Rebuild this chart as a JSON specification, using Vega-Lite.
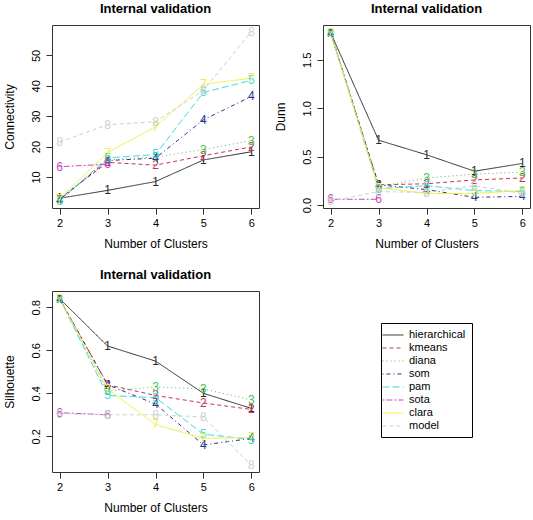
{
  "$schema": "https://vega.github.io/schema/vega-lite/v6.json",
  "background": "white",
  "padding": {"left": 2, "top": 2, "right": 0, "bottom": 0},
  "autosize": {"type": "pad"},
  "bounds": "flush",
  "columns": 2,
  "spacing": {"row": 83, "column": 64},
  "datasets": {
    "v": [
      {"m": "conn", "method": "hierarchical", "n": "1", "k": 2, "v": 3.0},
      {"m": "conn", "method": "hierarchical", "n": "1", "k": 3, "v": 5.6},
      {"m": "conn", "method": "hierarchical", "n": "1", "k": 4, "v": 8.5},
      {"m": "conn", "method": "hierarchical", "n": "1", "k": 5, "v": 15.6},
      {"m": "conn", "method": "hierarchical", "n": "1", "k": 6, "v": 18.3},
      {"m": "conn", "method": "kmeans", "n": "2", "k": 2, "v": 2.9},
      {"m": "conn", "method": "kmeans", "n": "2", "k": 3, "v": 14.8},
      {"m": "conn", "method": "kmeans", "n": "2", "k": 4, "v": 13.9},
      {"m": "conn", "method": "kmeans", "n": "2", "k": 5, "v": 17.0},
      {"m": "conn", "method": "kmeans", "n": "2", "k": 6, "v": 19.9},
      {"m": "conn", "method": "diana", "n": "3", "k": 2, "v": 2.9},
      {"m": "conn", "method": "diana", "n": "3", "k": 3, "v": 15.6},
      {"m": "conn", "method": "diana", "n": "3", "k": 4, "v": 16.6},
      {"m": "conn", "method": "diana", "n": "3", "k": 5, "v": 19.0},
      {"m": "conn", "method": "diana", "n": "3", "k": 6, "v": 22.0},
      {"m": "conn", "method": "som", "n": "4", "k": 2, "v": 2.5},
      {"m": "conn", "method": "som", "n": "4", "k": 3, "v": 15.4},
      {"m": "conn", "method": "som", "n": "4", "k": 4, "v": 16.2},
      {"m": "conn", "method": "som", "n": "4", "k": 5, "v": 28.8},
      {"m": "conn", "method": "som", "n": "4", "k": 6, "v": 36.5},
      {"m": "conn", "method": "pam", "n": "5", "k": 2, "v": 2.0},
      {"m": "conn", "method": "pam", "n": "5", "k": 3, "v": 16.3},
      {"m": "conn", "method": "pam", "n": "5", "k": 4, "v": 17.4},
      {"m": "conn", "method": "pam", "n": "5", "k": 5, "v": 37.8},
      {"m": "conn", "method": "pam", "n": "5", "k": 6, "v": 41.8},
      {"m": "conn", "method": "sota", "n": "6", "k": 2, "v": 13.4},
      {"m": "conn", "method": "sota", "n": "6", "k": 3, "v": 14.2},
      {"m": "conn", "method": "clara", "n": "7", "k": 2, "v": 2.9},
      {"m": "conn", "method": "clara", "n": "7", "k": 3, "v": 18.0},
      {"m": "conn", "method": "clara", "n": "7", "k": 4, "v": 26.5},
      {"m": "conn", "method": "clara", "n": "7", "k": 5, "v": 40.5},
      {"m": "conn", "method": "clara", "n": "7", "k": 6, "v": 42.5},
      {"m": "conn", "method": "model", "n": "8", "k": 2, "v": 21.5},
      {"m": "conn", "method": "model", "n": "8", "k": 3, "v": 27.2},
      {"m": "conn", "method": "model", "n": "8", "k": 4, "v": 28.2},
      {"m": "conn", "method": "model", "n": "8", "k": 5, "v": 38.5},
      {"m": "conn", "method": "model", "n": "8", "k": 6, "v": 57.8},

      {"m": "dunn", "method": "hierarchical", "n": "1", "k": 2, "v": 1.78},
      {"m": "dunn", "method": "hierarchical", "n": "1", "k": 3, "v": 0.67},
      {"m": "dunn", "method": "hierarchical", "n": "1", "k": 4, "v": 0.52},
      {"m": "dunn", "method": "hierarchical", "n": "1", "k": 5, "v": 0.35},
      {"m": "dunn", "method": "hierarchical", "n": "1", "k": 6, "v": 0.43},
      {"m": "dunn", "method": "kmeans", "n": "2", "k": 2, "v": 1.78},
      {"m": "dunn", "method": "kmeans", "n": "2", "k": 3, "v": 0.21},
      {"m": "dunn", "method": "kmeans", "n": "2", "k": 4, "v": 0.22},
      {"m": "dunn", "method": "kmeans", "n": "2", "k": 5, "v": 0.26},
      {"m": "dunn", "method": "kmeans", "n": "2", "k": 6, "v": 0.28},
      {"m": "dunn", "method": "diana", "n": "3", "k": 2, "v": 1.78},
      {"m": "dunn", "method": "diana", "n": "3", "k": 3, "v": 0.19},
      {"m": "dunn", "method": "diana", "n": "3", "k": 4, "v": 0.28},
      {"m": "dunn", "method": "diana", "n": "3", "k": 5, "v": 0.32},
      {"m": "dunn", "method": "diana", "n": "3", "k": 6, "v": 0.34},
      {"m": "dunn", "method": "som", "n": "4", "k": 2, "v": 1.78},
      {"m": "dunn", "method": "som", "n": "4", "k": 3, "v": 0.21},
      {"m": "dunn", "method": "som", "n": "4", "k": 4, "v": 0.16},
      {"m": "dunn", "method": "som", "n": "4", "k": 5, "v": 0.08},
      {"m": "dunn", "method": "som", "n": "4", "k": 6, "v": 0.09},
      {"m": "dunn", "method": "pam", "n": "5", "k": 2, "v": 1.78},
      {"m": "dunn", "method": "pam", "n": "5", "k": 3, "v": 0.17},
      {"m": "dunn", "method": "pam", "n": "5", "k": 4, "v": 0.2},
      {"m": "dunn", "method": "pam", "n": "5", "k": 5, "v": 0.15},
      {"m": "dunn", "method": "pam", "n": "5", "k": 6, "v": 0.14},
      {"m": "dunn", "method": "sota", "n": "6", "k": 2, "v": 0.06},
      {"m": "dunn", "method": "sota", "n": "6", "k": 3, "v": 0.06},
      {"m": "dunn", "method": "clara", "n": "7", "k": 2, "v": 1.78},
      {"m": "dunn", "method": "clara", "n": "7", "k": 3, "v": 0.18},
      {"m": "dunn", "method": "clara", "n": "7", "k": 4, "v": 0.12},
      {"m": "dunn", "method": "clara", "n": "7", "k": 5, "v": 0.12},
      {"m": "dunn", "method": "clara", "n": "7", "k": 6, "v": 0.15},
      {"m": "dunn", "method": "model", "n": "8", "k": 2, "v": 0.04},
      {"m": "dunn", "method": "model", "n": "8", "k": 3, "v": 0.14},
      {"m": "dunn", "method": "model", "n": "8", "k": 4, "v": 0.13},
      {"m": "dunn", "method": "model", "n": "8", "k": 5, "v": 0.2},
      {"m": "dunn", "method": "model", "n": "8", "k": 6, "v": 0.12},

      {"m": "sil", "method": "hierarchical", "n": "1", "k": 2, "v": 0.84},
      {"m": "sil", "method": "hierarchical", "n": "1", "k": 3, "v": 0.62},
      {"m": "sil", "method": "hierarchical", "n": "1", "k": 4, "v": 0.55},
      {"m": "sil", "method": "hierarchical", "n": "1", "k": 5, "v": 0.40},
      {"m": "sil", "method": "hierarchical", "n": "1", "k": 6, "v": 0.33},
      {"m": "sil", "method": "kmeans", "n": "2", "k": 2, "v": 0.84},
      {"m": "sil", "method": "kmeans", "n": "2", "k": 3, "v": 0.44},
      {"m": "sil", "method": "kmeans", "n": "2", "k": 4, "v": 0.39},
      {"m": "sil", "method": "kmeans", "n": "2", "k": 5, "v": 0.355},
      {"m": "sil", "method": "kmeans", "n": "2", "k": 6, "v": 0.325},
      {"m": "sil", "method": "diana", "n": "3", "k": 2, "v": 0.84},
      {"m": "sil", "method": "diana", "n": "3", "k": 3, "v": 0.41},
      {"m": "sil", "method": "diana", "n": "3", "k": 4, "v": 0.43},
      {"m": "sil", "method": "diana", "n": "3", "k": 5, "v": 0.42},
      {"m": "sil", "method": "diana", "n": "3", "k": 6, "v": 0.37},
      {"m": "sil", "method": "som", "n": "4", "k": 2, "v": 0.84},
      {"m": "sil", "method": "som", "n": "4", "k": 3, "v": 0.44},
      {"m": "sil", "method": "som", "n": "4", "k": 4, "v": 0.35},
      {"m": "sil", "method": "som", "n": "4", "k": 5, "v": 0.16},
      {"m": "sil", "method": "som", "n": "4", "k": 6, "v": 0.19},
      {"m": "sil", "method": "pam", "n": "5", "k": 2, "v": 0.84},
      {"m": "sil", "method": "pam", "n": "5", "k": 3, "v": 0.39},
      {"m": "sil", "method": "pam", "n": "5", "k": 4, "v": 0.38},
      {"m": "sil", "method": "pam", "n": "5", "k": 5, "v": 0.21},
      {"m": "sil", "method": "pam", "n": "5", "k": 6, "v": 0.185},
      {"m": "sil", "method": "sota", "n": "6", "k": 2, "v": 0.31},
      {"m": "sil", "method": "sota", "n": "6", "k": 3, "v": 0.30},
      {"m": "sil", "method": "clara", "n": "7", "k": 2, "v": 0.84},
      {"m": "sil", "method": "clara", "n": "7", "k": 3, "v": 0.42},
      {"m": "sil", "method": "clara", "n": "7", "k": 4, "v": 0.255},
      {"m": "sil", "method": "clara", "n": "7", "k": 5, "v": 0.19},
      {"m": "sil", "method": "clara", "n": "7", "k": 6, "v": 0.195},
      {"m": "sil", "method": "model", "n": "8", "k": 2, "v": 0.305},
      {"m": "sil", "method": "model", "n": "8", "k": 3, "v": 0.30},
      {"m": "sil", "method": "model", "n": "8", "k": 4, "v": 0.30},
      {"m": "sil", "method": "model", "n": "8", "k": 5, "v": 0.29},
      {"m": "sil", "method": "model", "n": "8", "k": 6, "v": 0.065}
    ]
  },
  "concat": [
    {
      "width": 207, "height": 183,
      "title": "Internal validation",
      "data": {"name": "v"},
      "transform": [{"filter": "datum.m === 'conn'"}],
      "encoding": {
        "x": {"field": "k", "type": "quantitative", "scale": {"domain": [1.84, 6.16], "nice": false, "zero": false}, "axis": {"values": [2, 3, 4, 5, 6], "title": "Number of Clusters"}},
        "y": {"field": "v", "type": "quantitative", "scale": {"domain": [-0.2, 60.0], "nice": false, "zero": false}, "axis": {"values": [10, 20, 30, 40, 50], "title": "Connectivity"}},
        "color": {"field": "method", "type": "nominal", "scale": {"domain": ["hierarchical", "kmeans", "diana", "som", "pam", "sota", "clara", "model"], "range": ["#2b2b2b", "#c8325a", "#4cbf4c", "#2e2e8c", "#3fdcdc", "#cc44bb", "#f0f03a", "#cfcfcf"]}, "legend": null}
      },
      "layer": [
        {"mark": {"type": "line", "strokeWidth": 1}, "encoding": {"strokeDash": {"field": "method", "type": "nominal", "scale": {"domain": ["hierarchical", "kmeans", "diana", "som", "pam", "sota", "clara", "model"], "range": [[1, 0], [4, 3], [1, 3], [1, 3, 4, 3], [7, 3], [2, 2, 6, 2], [1, 0], [4, 3]]}, "legend": null}}},
        {"mark": {"type": "text", "fontSize": 12, "baseline": "middle", "align": "center"}, "encoding": {"text": {"field": "n"}}}
      ]
    },
    {
      "width": 207, "height": 183,
      "title": "Internal validation",
      "data": {"name": "v"},
      "transform": [{"filter": "datum.m === 'dunn'"}],
      "encoding": {
        "x": {"field": "k", "type": "quantitative", "scale": {"domain": [1.84, 6.16], "nice": false, "zero": false}, "axis": {"values": [2, 3, 4, 5, 6], "title": "Number of Clusters"}},
        "y": {"field": "v", "type": "quantitative", "scale": {"domain": [-0.03, 1.86], "nice": false, "zero": false}, "axis": {"values": [0, 0.5, 1.0, 1.5], "format": ".1f", "title": "Dunn"}},
        "color": {"field": "method", "type": "nominal", "scale": {"domain": ["hierarchical", "kmeans", "diana", "som", "pam", "sota", "clara", "model"], "range": ["#2b2b2b", "#c8325a", "#4cbf4c", "#2e2e8c", "#3fdcdc", "#cc44bb", "#f0f03a", "#cfcfcf"]}, "legend": null}
      },
      "layer": [
        {"mark": {"type": "line", "strokeWidth": 1}, "encoding": {"strokeDash": {"field": "method", "type": "nominal", "scale": {"domain": ["hierarchical", "kmeans", "diana", "som", "pam", "sota", "clara", "model"], "range": [[1, 0], [4, 3], [1, 3], [1, 3, 4, 3], [7, 3], [2, 2, 6, 2], [1, 0], [4, 3]]}, "legend": null}}},
        {"mark": {"type": "text", "fontSize": 12, "baseline": "middle", "align": "center"}, "encoding": {"text": {"field": "n"}}}
      ]
    },
    {
      "width": 207, "height": 181,
      "title": "Internal validation",
      "data": {"name": "v"},
      "transform": [{"filter": "datum.m === 'sil'"}],
      "encoding": {
        "x": {"field": "k", "type": "quantitative", "scale": {"domain": [1.84, 6.16], "nice": false, "zero": false}, "axis": {"values": [2, 3, 4, 5, 6], "title": "Number of Clusters"}},
        "y": {"field": "v", "type": "quantitative", "scale": {"domain": [0.034, 0.876], "nice": false, "zero": false}, "axis": {"values": [0.2, 0.4, 0.6, 0.8], "format": ".1f", "title": "Silhouette"}},
        "color": {"field": "method", "type": "nominal", "scale": {"domain": ["hierarchical", "kmeans", "diana", "som", "pam", "sota", "clara", "model"], "range": ["#2b2b2b", "#c8325a", "#4cbf4c", "#2e2e8c", "#3fdcdc", "#cc44bb", "#f0f03a", "#cfcfcf"]}, "legend": {"title": null, "orient": "none", "legendX": 329, "legendY": 32}}
      },
      "layer": [
        {"mark": {"type": "line", "strokeWidth": 1}, "encoding": {"strokeDash": {"field": "method", "type": "nominal", "scale": {"domain": ["hierarchical", "kmeans", "diana", "som", "pam", "sota", "clara", "model"], "range": [[1, 0], [4, 3], [1, 3], [1, 3, 4, 3], [7, 3], [2, 2, 6, 2], [1, 0], [4, 3]]}, "legend": {"title": null, "orient": "none", "legendX": 329, "legendY": 32}}}},
        {"mark": {"type": "text", "fontSize": 12, "baseline": "middle", "align": "center"}, "encoding": {"text": {"field": "n"}}}
      ]
    }
  ],
  "resolve": {"scale": {"y": "independent", "color": "independent", "strokeDash": "independent"}, "legend": {"color": "independent", "strokeDash": "independent"}},
  "config": {
    "font": "Liberation Sans",
    "view": {"stroke": "#333333", "strokeWidth": 1},
    "title": {"fontSize": 13, "fontWeight": "bold", "color": "#000", "anchor": "middle", "offset": 9, "font": "Liberation Sans"},
    "axis": {"domain": false, "grid": false, "tickColor": "#333", "tickSize": 6, "labelColor": "#000", "labelFontSize": 11, "titleFontSize": 12, "titleFontWeight": "normal", "titleColor": "#000", "labelFont": "Liberation Sans", "titleFont": "Liberation Sans"},
    "axisX": {"labelPadding": 3, "titlePadding": 10},
    "axisY": {"labelAngle": 270, "labelAlign": "center", "labelBaseline": "bottom", "labelPadding": 5, "titlePadding": 14},
    "legend": {"strokeColor": "#000", "fillColor": "white", "padding": 6, "labelFontSize": 11, "labelColor": "#000", "labelFont": "Liberation Sans", "symbolType": "M-2,0H2", "symbolSize": 110, "symbolStrokeWidth": 1, "rowPadding": 2, "labelOffset": 10, "cornerRadius": 0}
  }
}
